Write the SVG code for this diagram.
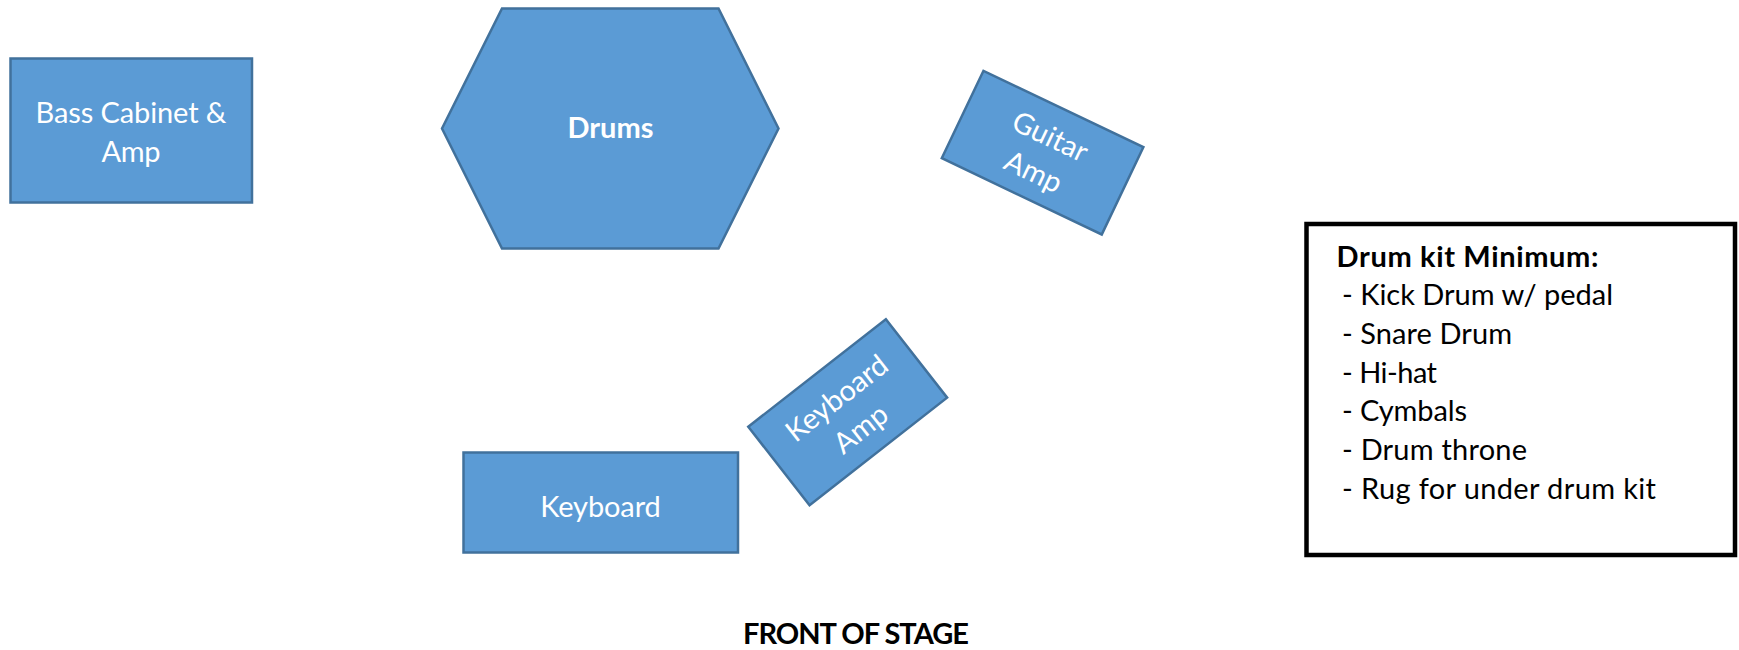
<svg xmlns="http://www.w3.org/2000/svg" width="1739" height="650" viewBox="0 0 1739 650">
<style>
.shape{fill:#5B9BD5;stroke:#41719C;stroke-width:2.5}
.lbl{font-family:Lato,"Liberation Sans",sans-serif;font-size:29px;fill:#FFFFFF;text-anchor:middle}
.bold{font-weight:bold}
.list{font-family:Lato,"Liberation Sans",sans-serif;font-size:29px;fill:#000000}
</style>
<rect width="1739" height="650" fill="#FFFFFF"/>
<g id="connectors"/>
<g id="bass">
<rect class="shape" x="10.5" y="58.5" width="241.5" height="144"/>
<text class="lbl" x="131" y="122.7" textLength="191">Bass Cabinet &amp;</text>
<text class="lbl" x="131" y="161.7" textLength="59">Amp</text>
</g>
<g id="drums">
<polygon class="shape" points="442,128.5 502,8.5 718.5,8.5 778.5,128.5 718.5,248.5 502,248.5"/>
<text class="lbl bold" x="610.5" y="138.3" textLength="86">Drums</text>
</g>
<g id="guitar-amp" transform="translate(1042.6,152.7) rotate(25.5)">
<rect class="shape" x="-88.6" y="-48.35" width="177.2" height="96.7"/>
<text class="lbl" x="0" y="-7.8" textLength="80">Guitar</text>
<text class="lbl" x="0" y="31.2" textLength="60">Amp</text>
</g>
<g id="keyboard-amp" transform="translate(847.7,412.2) rotate(-38)">
<rect class="shape" x="-87.3" y="-49.75" width="174.6" height="99.5"/>
<text class="lbl" x="0" y="-7.8" textLength="120.5">Keyboard</text>
<text class="lbl" x="0" y="31.2" textLength="60">Amp</text>
</g>
<g id="keyboard">
<rect class="shape" x="463.5" y="452.5" width="274.5" height="100"/>
<text class="lbl" x="600.5" y="516.7" textLength="120.5">Keyboard</text>
</g>
<g id="drum-kit-note">
<rect x="1306.5" y="224" width="428.5" height="331" fill="#FFFFFF" stroke="#000000" stroke-width="4.5"/>
<text class="list bold" x="1336.5" y="266.7" textLength="262">Drum kit Minimum:</text>
<text class="list" x="1342" y="305.3" textLength="271">- Kick Drum w/ pedal</text>
<text class="list" x="1342" y="344" textLength="170">- Snare Drum</text>
<text class="list" x="1342" y="382.7" textLength="95">- Hi-hat</text>
<text class="list" x="1342" y="421.3" textLength="125">- Cymbals</text>
<text class="list" x="1342" y="460" textLength="185">- Drum throne</text>
<text class="list" x="1342" y="498.7" textLength="314">- Rug for under drum kit</text>
</g>
<g id="front-of-stage">
<text class="list bold" x="856" y="644" text-anchor="middle" font-size="27" textLength="226">FRONT OF STAGE</text>
</g>
</svg>
